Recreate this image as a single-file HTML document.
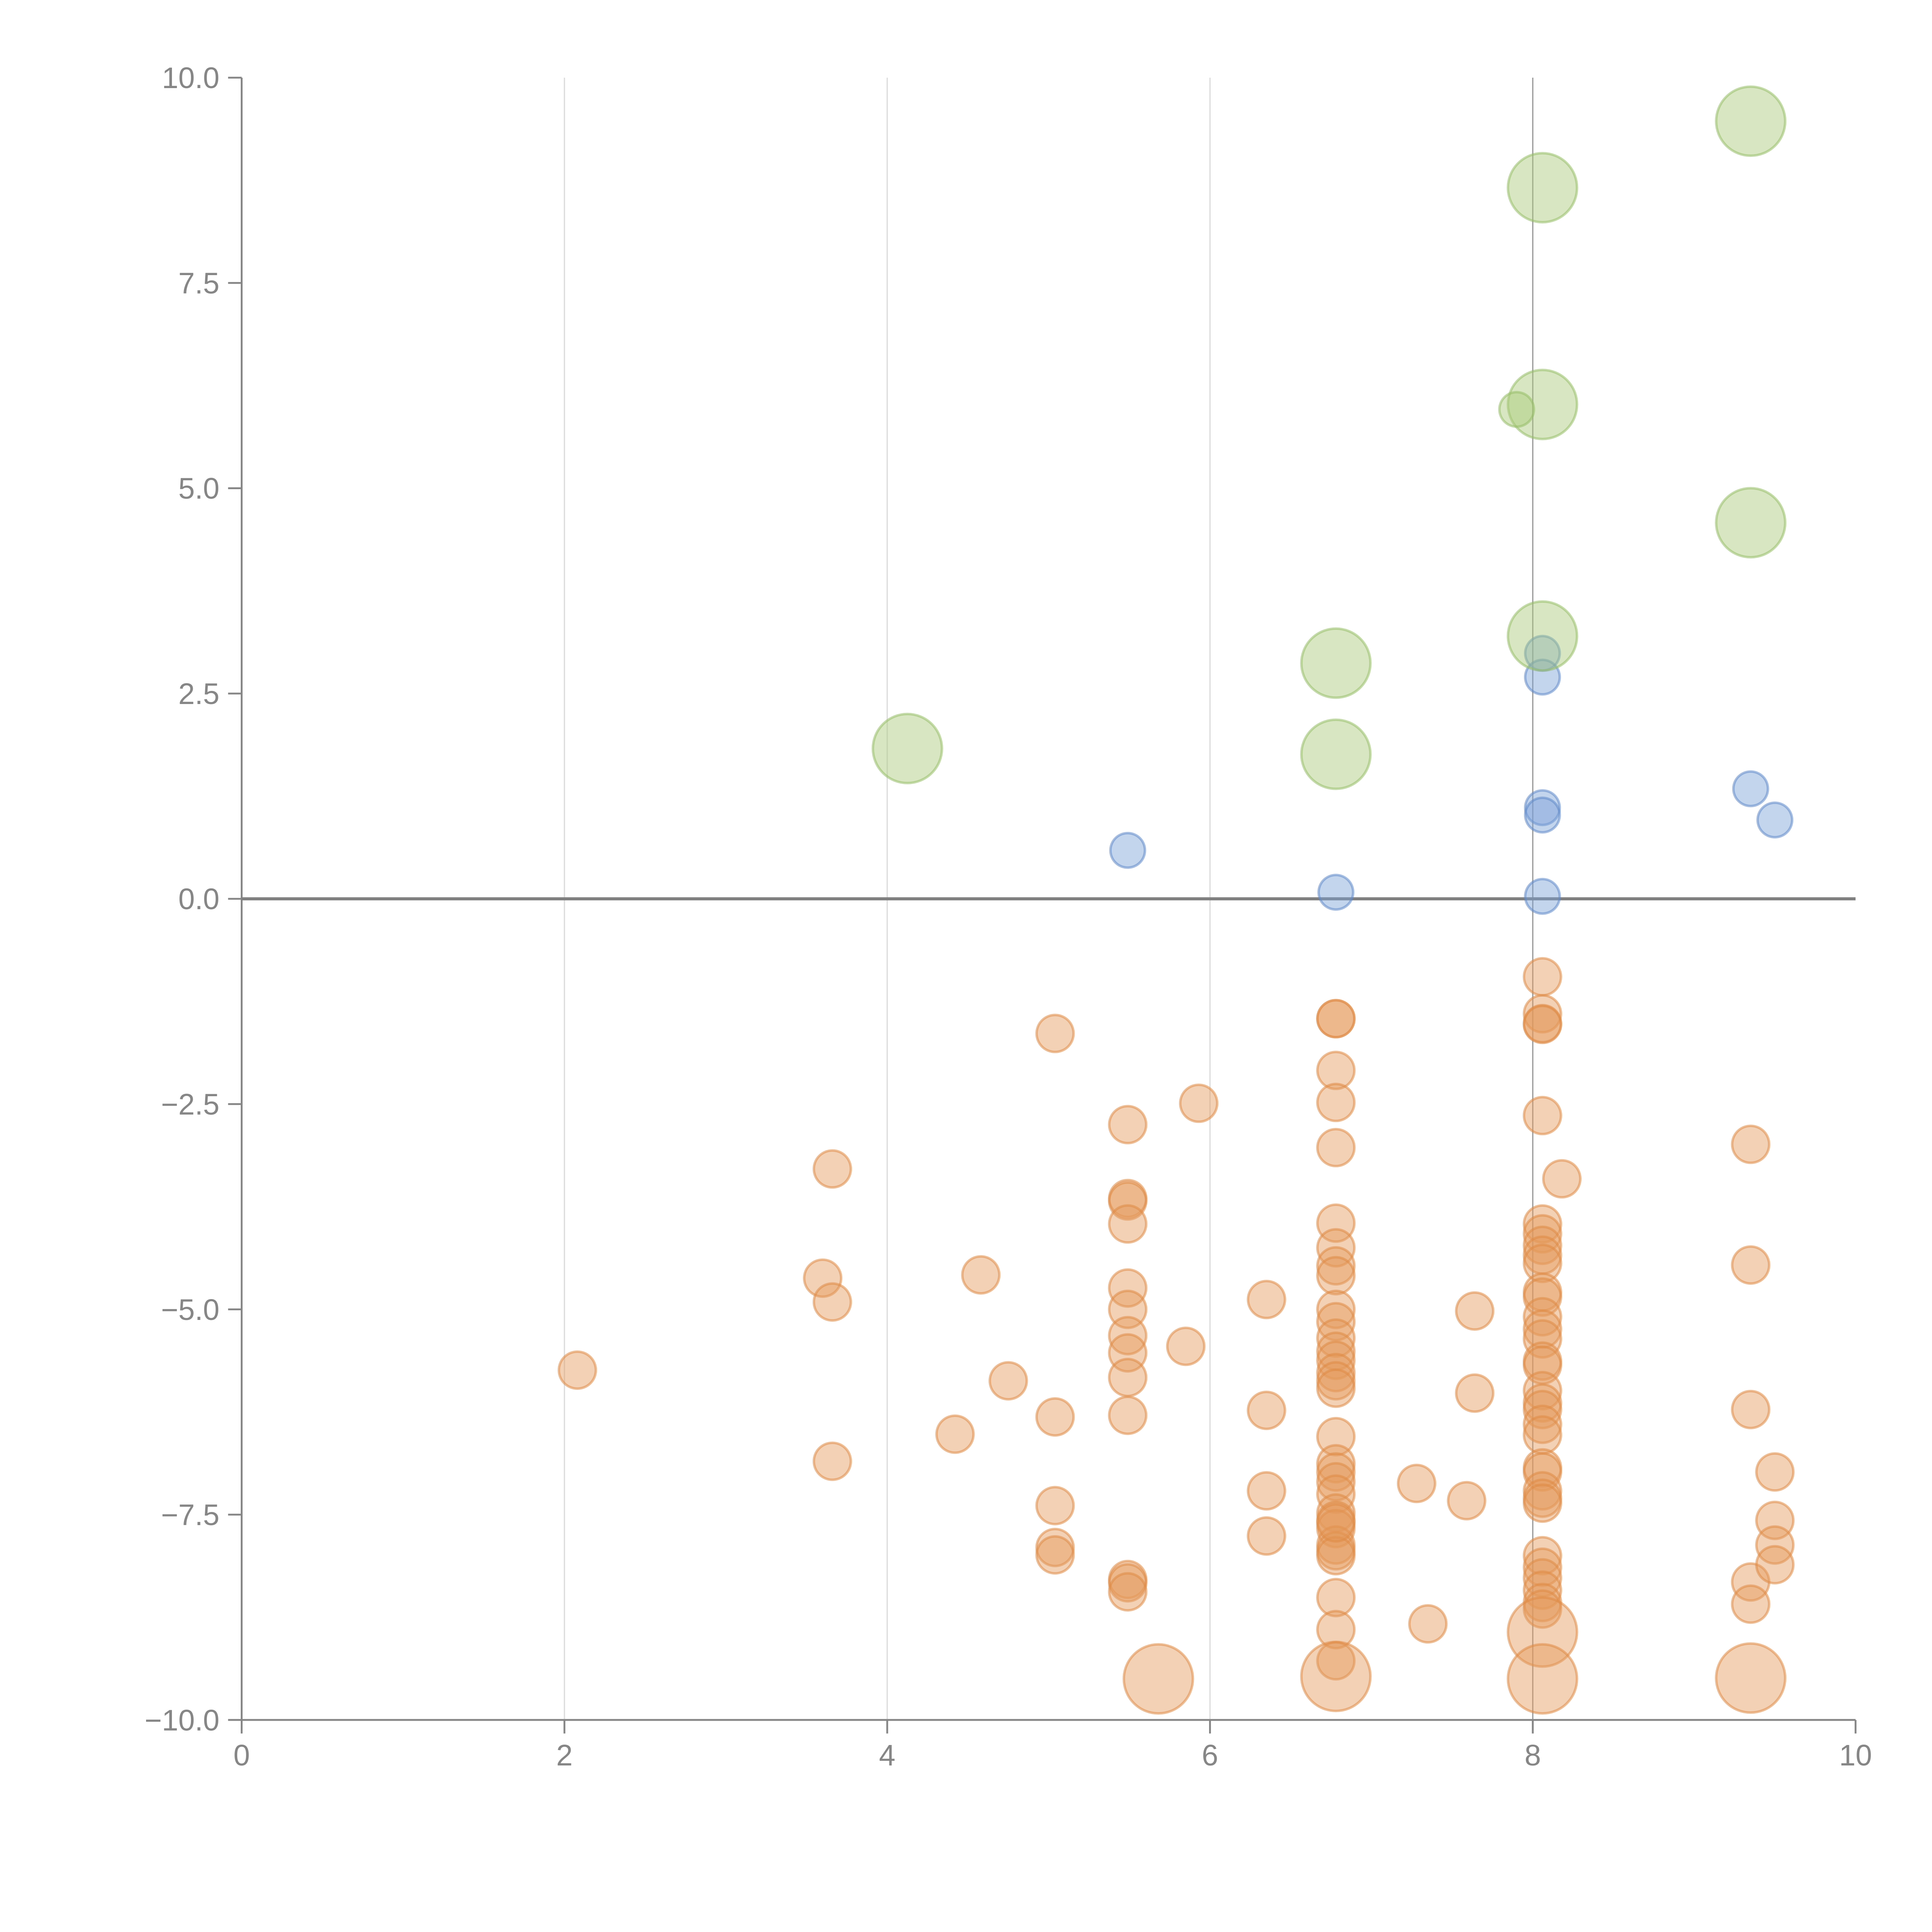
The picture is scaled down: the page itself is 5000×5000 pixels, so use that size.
<!DOCTYPE html>
<html><head><meta charset="utf-8"><style>html,body{margin:0;padding:0;background:#fff}svg{display:block}</style></head>
<body>
<svg id="chart" width="5000" height="5000" viewBox="0 0 1567 1567" xmlns="http://www.w3.org/2000/svg" font-family="Liberation Sans, sans-serif">
<g id="grid"></g>
<g id="axes"></g>
<g id="points"></g>
</svg>
<script>
const xTicks = [0, 2, 4, 6, 8, 10];
const yTicks = [-10, -7.5, -5, -2.5, 0, 2.5, 5, 7.5, 10];
const yTickLabels = ["\u221210.0", "\u22127.5", "\u22125.0", "\u22122.5", "0.0", "2.5", "5.0", "7.5", "10.0"];
const greenX = [4.125, 6.78, 6.78, 8.06, 8.06, 7.90, 8.06, 9.35, 9.35];
const greenY = [1.83, 2.87, 1.76, 8.66, 6.02, 5.96, 3.2, 9.47, 4.58];
const greenSize = [2, 2, 2, 2, 2, 1, 2, 2, 2];
const blueX = [5.49, 6.78, 8.06, 8.06, 8.06, 8.06, 8.06, 9.35, 9.50];
const blueY = [0.59, 0.08, 2.99, 2.70, 1.11, 1.02, 0.03, 1.34, 0.96];
const orangeBigX = [5.68, 6.78, 8.06, 8.06, 9.35];
const orangeBigY = [-9.5, -9.47, -8.93, -9.5, -9.49];
const orangeX = [2.08, 3.6, 3.66, 3.66, 3.66, 4.42, 4.58, 4.75,
 5.04, 5.04, 5.04, 5.04, 5.04,
 5.49, 5.49, 5.49, 5.49, 5.49, 5.49, 5.49, 5.49, 5.49, 5.49, 5.49, 5.49, 5.49,
 5.85, 5.93, 6.35, 6.35, 6.35, 6.35,
 6.78, 6.78, 6.78, 6.78, 6.78, 6.78, 6.78, 6.78, 6.78, 6.78, 6.78, 6.78, 6.78, 6.78, 6.78, 6.78, 6.78, 6.78, 6.78, 6.78, 6.78, 6.78, 6.78, 6.78, 6.78, 6.78, 6.78, 6.78, 6.78, 6.78, 6.78, 6.78,
 7.28, 7.35, 7.59, 7.64, 7.64,
 8.06, 8.06, 8.06, 8.06, 8.06, 8.06, 8.06, 8.06, 8.06, 8.06, 8.06, 8.06, 8.06, 8.06, 8.06, 8.06, 8.06, 8.06, 8.06, 8.06, 8.06, 8.06, 8.06, 8.06, 8.06, 8.06, 8.06, 8.06, 8.06, 8.06, 8.06, 8.06, 8.06,
 8.18, 9.35, 9.35, 9.35, 9.35, 9.35, 9.5, 9.5, 9.5, 9.5];
const orangeY = [-5.74, -4.62, -3.29, -4.91, -6.85, -6.52, -4.58, -5.87,
 -1.64, -6.31, -7.39, -7.9, -7.99,
 -2.75, -3.65, -3.68, -3.96, -4.74, -5.0, -5.32, -5.53, -5.83, -6.29, -8.29, -8.33, -8.44,
 -5.45, -2.49, -4.88, -6.23, -7.21, -7.76,
 -1.46, -1.46, -2.09, -2.48, -3.03, -3.95, -4.25, -4.47, -4.59, -5.0, -5.15, -5.35, -5.51, -5.62, -5.77, -5.87, -5.96, -6.55, -6.88, -6.98, -7.1, -7.25, -7.48, -7.57, -7.67, -7.87, -7.94, -8.0, -8.51, -8.9, -9.28, -7.6,
 -7.12, -8.83, -7.33, -5.02, -6.02,
 -0.95, -1.4, -1.52, -1.53, -2.64, -3.96, -4.08, -4.22, -4.34, -4.44, -4.79, -4.85, -5.09, -5.24, -5.36, -5.63, -5.68, -5.99, -6.14, -6.22, -6.4, -6.53, -6.93, -6.98, -7.21, -7.3, -7.36, -8.0, -8.14, -8.27, -8.42, -8.57, -8.65,
 -3.41, -2.99, -4.46, -6.22, -8.32, -8.59, -6.98, -7.57, -7.87, -8.11];

const NS = "http://www.w3.org/2000/svg";
const L = 196, R = 1505, T = 63, B = 1395;
function sx(v) { return L + (v - 0) / 10 * (R - L); }
function sy(v) { return T + (10 - v) / 20 * (B - T); }
function mk(tag, attrs, parent) {
  const e = document.createElementNS(NS, tag);
  for (const k in attrs) e.setAttribute(k, attrs[k]);
  parent.appendChild(e);
  return e;
}
const grid = document.getElementById('grid');
const axes = document.getElementById('axes');
const pts = document.getElementById('points');

xTicks.forEach((t, i) => {
  if (t > 0 && t < 10) {
    const g = mk('line', {x1: sx(t), x2: sx(t), y1: T, y2: B, stroke: t === 8 ? '#9a9a9a' : '#dcdcdc', 'stroke-width': 1}, grid);
    
    
  }
  const tk = mk('line', {x1: sx(t), x2: sx(t), y1: B, y2: B + 11, stroke: '#868686', 'stroke-width': 1.5}, axes);
  
  
  const tx = mk('text', {x: sx(t), y: B + 37, 'text-anchor': 'middle', 'font-size': 24, fill: '#868686'}, axes);
  tx.textContent = String(t);
  
  
});
yTicks.forEach((t, i) => {
  const tk = mk('line', {x1: L - 11, x2: L, y1: sy(t), y2: sy(t), stroke: '#868686', 'stroke-width': 1.5}, axes);
  
  
  const tx = mk('text', {x: L - 18, y: sy(t) + 8.5, 'text-anchor': 'end', 'font-size': 24, fill: '#868686'}, axes);
  tx.textContent = yTickLabels[i];
  
  
});
const ya = mk('line', {x1: L, x2: L, y1: T, y2: B, stroke: '#868686', 'stroke-width': 1.5}, axes);


const xa = mk('line', {x1: L, x2: R, y1: B, y2: B, stroke: '#868686', 'stroke-width': 1.5}, axes);


const zl = mk('line', {x1: L, x2: R, y1: sy(0), y2: sy(0), stroke: '#808080', 'stroke-width': 2.5}, axes);



function dot(x, y, r, fill, stroke, name) {
  const c = mk('circle', {cx: sx(x), cy: sy(y), r: r, fill: fill, 'fill-opacity': 0.45, stroke: stroke, 'stroke-opacity': 0.55, 'stroke-width': 2}, pts);
  
  
}
orangeX.forEach((x, i) => dot(x, orangeY[i], 15, '#e49a5c', '#df8a45', 'orange-point'));
orangeBigX.forEach((x, i) => dot(x, orangeBigY[i], 28, '#e49a5c', '#df8a45', 'orange-large-point'));
blueX.forEach((x, i) => dot(x, blueY[i], 14, '#7a9fd6', '#5f88c8', 'blue-point'));
greenX.forEach((x, i) => dot(x, greenY[i], greenSize[i] === 2 ? 28 : 14, '#a9c978', '#98bd68', 'green-point'));
</script>
</body></html>
